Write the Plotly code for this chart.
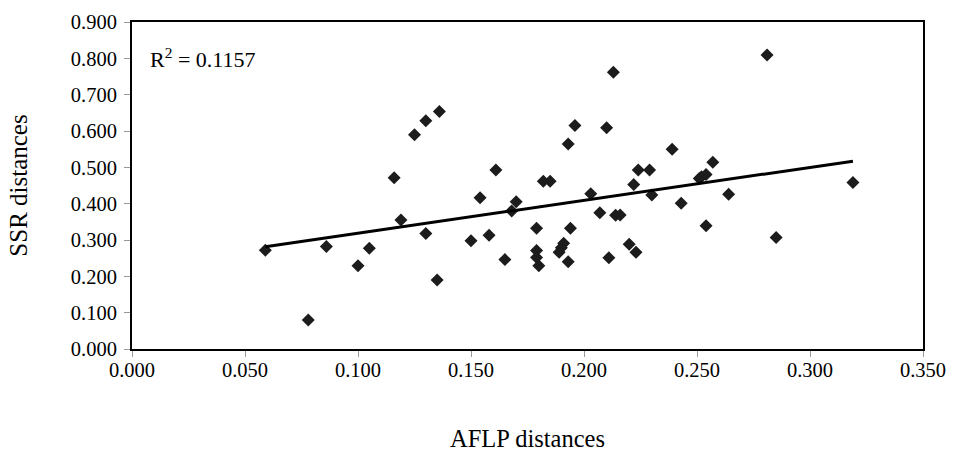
import plotly.graph_objects as go

# AFLP (x) vs SSR (y) distances
aflp = [0.059, 0.078, 0.086, 0.100, 0.105, 0.116, 0.119, 0.125, 0.130, 0.130,
        0.136, 0.135, 0.150, 0.154, 0.158, 0.161, 0.165, 0.168, 0.170, 0.179,
        0.179, 0.179, 0.180, 0.182, 0.185, 0.193, 0.196, 0.194, 0.189, 0.190,
        0.191, 0.193, 0.203, 0.207, 0.210, 0.213, 0.211, 0.214, 0.216, 0.220,
        0.223, 0.222, 0.224, 0.229, 0.230, 0.239, 0.243, 0.251, 0.252, 0.254,
        0.257, 0.254, 0.264, 0.281, 0.285, 0.319]
ssr = [0.272, 0.080, 0.282, 0.229, 0.277, 0.471, 0.355, 0.590, 0.628, 0.318,
       0.654, 0.190, 0.298, 0.416, 0.313, 0.493, 0.246, 0.380, 0.405, 0.332,
       0.271, 0.252, 0.229, 0.462, 0.462, 0.564, 0.615, 0.332, 0.266, 0.279,
       0.291, 0.240, 0.427, 0.375, 0.609, 0.762, 0.251, 0.368, 0.369, 0.288,
       0.266, 0.453, 0.493, 0.493, 0.424, 0.550, 0.401, 0.469, 0.474, 0.480,
       0.514, 0.339, 0.426, 0.809, 0.307, 0.458]

# linear trend as drawn in the reference
trend_slope = 0.906
trend_intercept = 0.228
r2_text = "R<sup>2</sup> = 0.1157"

x_title = "AFLP distances"
y_title = "SSR distances"

FONT = "Liberation Serif, Times New Roman, serif"

tx = [min(aflp), max(aflp)]
ty = [trend_intercept + trend_slope * v for v in tx]

fig = go.Figure()
fig.add_trace(go.Scatter(
    x=aflp, y=ssr, mode="markers",
    marker=dict(symbol="diamond", size=10, color="#1c1c1c", line=dict(width=0)),
    showlegend=False, hoverinfo="x+y"))
fig.add_trace(go.Scatter(
    x=tx, y=ty, mode="lines", line=dict(color="black", width=3),
    showlegend=False, hoverinfo="skip"))

fig.add_annotation(x=0.007, y=0.800, xref="x", yref="y", text=r2_text,
                   showarrow=False, xanchor="left", yanchor="middle",
                   font=dict(family=FONT, size=22, color="black"))

fig.update_layout(
    width=956, height=454,
    margin=dict(l=132, r=33, t=22, b=105),
    paper_bgcolor="white", plot_bgcolor="white",
    font=dict(family=FONT, color="black"),
)
fig.update_xaxes(
    range=[0, 0.35], dtick=0.05, tick0=0, tickformat=".3f",
    showgrid=False, zeroline=False, automargin=False,
    showline=True, linecolor="black", linewidth=2, mirror=True,
    ticks="outside", ticklen=6, tickcolor="#999999", tickwidth=1,
    ticklabelstandoff=-5,
    tickfont=dict(family=FONT, size=20.5, color="black"),
    title=dict(text=x_title, font=dict(family=FONT, size=24.5, color="black"), standoff=50),
)
fig.update_yaxes(
    range=[0, 0.9], dtick=0.1, tick0=0, tickformat=".3f",
    showgrid=False, zeroline=False, automargin=False,
    showline=True, linecolor="black", linewidth=2, mirror=True,
    ticks="outside", ticklen=6, tickcolor="#999999", tickwidth=1,
    ticklabelstandoff=3,
    tickfont=dict(family=FONT, size=20.5, color="black"),
    title=dict(text=y_title, font=dict(family=FONT, size=25, color="black"), standoff=36),
)

fig.write_html("out.html", config={"displayModeBar": False},
               post_script="document.body.style.margin='0';document.body.style.overflow='hidden';")
